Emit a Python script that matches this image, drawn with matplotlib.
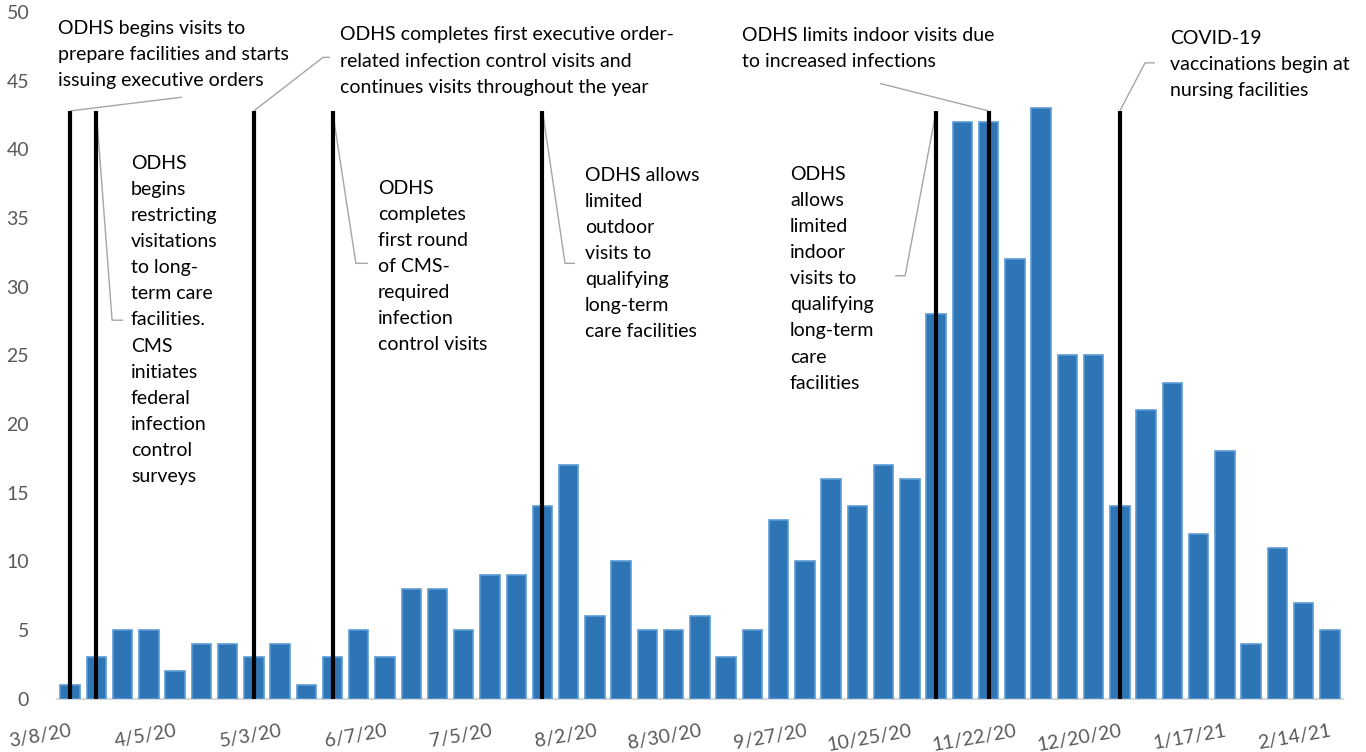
import matplotlib
matplotlib.use("Agg")
import matplotlib.pyplot as plt
import numpy as np

plt.rcParams['font.family'] = ['Lato', 'DejaVu Sans']

# ---- data ----
visits = [1, 3, 5, 5, 2, 4, 4, 3, 4, 1, 3, 5, 3, 8, 8, 5, 9, 9, 14, 17, 6, 10, 5, 5, 6,
          3, 5, 13, 10, 16, 14, 17, 16, 28, 42, 42, 32, 43, 25, 25, 14, 21, 23, 12, 18,
          4, 11, 7, 5]
tick_labels = ["3/8/20", "4/5/20", "5/3/20", "6/7/20", "7/5/20", "8/2/20", "8/30/20",
               "9/27/20", "10/25/20", "11/22/20", "12/20/20", "1/17/21", "2/14/21"]
event_weeks = [0, 1, 7, 10, 18, 33, 35, 40]
event_height = 42.8
event_texts = [
    "ODHS begins visits to\nprepare facilities and starts\nissuing executive orders",
    "ODHS\nbegins\nrestricting\nvisitations\nto long-\nterm care\nfacilities.\nCMS\ninitiates\nfederal\ninfection\ncontrol\nsurveys",
    "ODHS completes first executive order-\nrelated infection control visits and\ncontinues visits throughout the year",
    "ODHS\ncompletes\nfirst round\nof CMS-\nrequired\ninfection\ncontrol visits",
    "ODHS allows\nlimited\noutdoor\nvisits to\nqualifying\nlong-term\ncare facilities",
    "ODHS\nallows\nlimited\nindoor\nvisits to\nqualifying\nlong-term\ncare\nfacilities",
    "ODHS limits indoor visits due\nto increased infections",
    "COVID-19\nvaccinations begin at\nnursing facilities",
]
# text anchor (left, top) in data coords
text_pos = [(-0.46, 49.45), (2.32, 39.6), (10.28, 48.95), (11.73, 37.8),
            (19.62, 38.75), (27.43, 38.8), (25.6, 48.9), (41.92, 48.7)]
# leader polylines (after the event top point)
leader_pts = [
    [(4.26, 43.8)],
    [(1.60, 27.56), (2.02, 27.56)],
    [(9.64, 46.7), (9.90, 46.7)],
    [(10.89, 31.7), (11.35, 31.7)],
    [(18.86, 31.7), (19.24, 31.7)],
    [(31.82, 30.8), (31.44, 30.8)],
    [(30.86, 44.8)],
    [(40.96, 46.3), (41.34, 46.3)],
]
leader_event = [0, 1, 7, 10, 18, 33, 35, 40]

# ---- figure ----
fig = plt.figure(figsize=(13.66, 7.52), dpi=100)
ax = fig.add_axes([0.0417, 0.0709, 0.9414, 0.9131])

x = np.arange(len(visits))
ax.bar(x, visits, width=0.74, color="#2E75B6", edgecolor="#5B9BD5", linewidth=1.2, zorder=2)
ax.vlines(event_weeks, 0, event_height, color="black", linewidth=3.0, zorder=4)

for txt, (tx, ty) in zip(event_texts, text_pos):
    ax.text(tx, ty, txt, ha="left", va="top", fontsize=14, color="black",
            linespacing=1.65, zorder=5)

for ev, pts in zip(leader_event, leader_pts):
    xs = [ev] + [p[0] for p in pts]
    ys = [event_height] + [p[1] for p in pts]
    ax.plot(xs, ys, color="#A6A6A6", linewidth=1.0, zorder=3, solid_capstyle="butt")

ax.set_xlim(-0.5, len(visits) - 0.5)
ax.set_ylim(0, 50)
ax.set_yticks(np.arange(0, 51, 5))
ax.set_xticks(np.arange(0, len(visits), 4))
ax.set_xticklabels(tick_labels, rotation=10, ha="right", rotation_mode="anchor")

ax.tick_params(axis="y", length=0, pad=20, labelsize=14, labelcolor="#595959")
ax.tick_params(axis="x", length=0, pad=17, labelsize=14, labelcolor="#595959")

for s in ["top", "right", "left"]:
    ax.spines[s].set_visible(False)
ax.spines["bottom"].set_color("#D9D9D9")
ax.spines["bottom"].set_linewidth(1.5)
ax.spines["bottom"].set_zorder(1)

fig.savefig("out.png", dpi=100)
